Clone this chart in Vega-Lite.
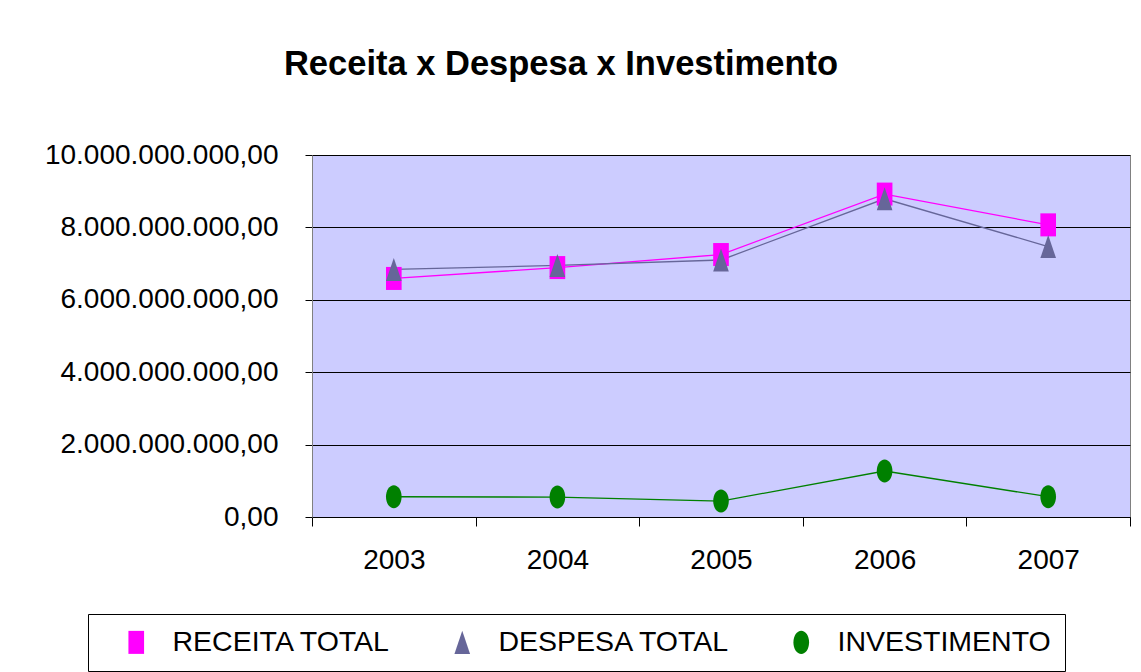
{
  "$schema": "https://vega.github.io/schema/vega-lite/v6.json",
  "width": 818,
  "height": 362,
  "autosize": "none",
  "padding": {"left": 312, "top": 155, "right": 11, "bottom": 155},
  "background": "white",
  "title": {
    "text": "Receita x Despesa x Investimento",
    "font": "Liberation Sans",
    "fontSize": 34.5,
    "fontWeight": "bold",
    "color": "black",
    "anchor": "middle",
    "frame": "group",
    "dx": -160,
    "offset": 32,
    "baseline": "alphabetic"
  },
  "data": {
    "values": [
      {"ano": "2003", "serie": "RECEITA TOTAL", "valor": 6590000000},
      {"ano": "2004", "serie": "RECEITA TOTAL", "valor": 6890000000},
      {"ano": "2005", "serie": "RECEITA TOTAL", "valor": 7250000000},
      {"ano": "2006", "serie": "RECEITA TOTAL", "valor": 8920000000},
      {"ano": "2007", "serie": "RECEITA TOTAL", "valor": 8070000000},
      {"ano": "2003", "serie": "DESPESA TOTAL", "valor": 6840000000},
      {"ano": "2004", "serie": "DESPESA TOTAL", "valor": 6950000000},
      {"ano": "2005", "serie": "DESPESA TOTAL", "valor": 7100000000},
      {"ano": "2006", "serie": "DESPESA TOTAL", "valor": 8790000000},
      {"ano": "2007", "serie": "DESPESA TOTAL", "valor": 7470000000},
      {"ano": "2003", "serie": "INVESTIMENTO", "valor": 560000000},
      {"ano": "2004", "serie": "INVESTIMENTO", "valor": 550000000},
      {"ano": "2005", "serie": "INVESTIMENTO", "valor": 440000000},
      {"ano": "2006", "serie": "INVESTIMENTO", "valor": 1270000000},
      {"ano": "2007", "serie": "INVESTIMENTO", "valor": 560000000}
    ]
  },
  "encoding": {
    "x": {
      "field": "ano",
      "type": "ordinal",
      "bandPosition": 0.5,
      "scale": {"type": "band", "paddingInner": 0, "paddingOuter": 0},
      "axis": {
        "title": null,
        "labelAngle": 0,
        "tickBand": "extent",
        "tickSize": 9,
        "tickColor": "black",
        "domainColor": "black",
        "labelFont": "Liberation Sans",
        "labelFontSize": 28,
        "labelColor": "black",
        "labelPadding": 20,
        "grid": false
      }
    },
    "y": {
      "field": "valor",
      "type": "quantitative",
      "scale": {"domain": [0, 10000000000], "nice": false},
      "axis": {
        "title": null,
        "values": [0, 2000000000, 4000000000, 6000000000, 8000000000, 10000000000],
        "format": ",.2f",
        "tickSize": 7,
        "tickColor": "black",
        "domainColor": "#808080",
        "grid": true,
        "gridColor": "black",
        "gridWidth": 1,
        "gridOpacity": 1,
        "labelFont": "Liberation Sans",
        "labelFontSize": 28,
        "labelColor": "black",
        "labelPadding": 27,
        "labelLimit": 400
      }
    },
    "color": {
      "field": "serie",
      "type": "nominal",
      "sort": ["RECEITA TOTAL", "DESPESA TOTAL", "INVESTIMENTO"],
      "scale": {
        "domain": ["RECEITA TOTAL", "DESPESA TOTAL", "INVESTIMENTO"],
        "range": ["#FF00FF", "#666699", "#008000"]
      },
      "legend": {
        "title": null,
        "orient": "none",
        "legendX": -224,
        "legendY": 459,
        "direction": "horizontal",
        "strokeColor": "black",
        "padding": 14,
        "labelFont": "Liberation Sans",
        "labelFontSize": 28.5,
        "labelColor": "black",
        "symbolSize": 530,
        "symbolStrokeWidth": 0,
        "symbolOffset": 20,
        "labelOffset": 22,
        "columnPadding": 36,
        "labelLimit": 400
      }
    }
  },
  "layer": [
    {
      "mark": {"type": "line", "strokeWidth": 1.3}
    },
    {
      "mark": {"type": "point", "filled": true, "opacity": 1, "size": 530, "strokeWidth": 0},
      "encoding": {
        "shape": {
          "field": "serie",
          "type": "nominal",
          "sort": ["RECEITA TOTAL", "DESPESA TOTAL", "INVESTIMENTO"],
          "scale": {
            "domain": ["RECEITA TOTAL", "DESPESA TOTAL", "INVESTIMENTO"],
            "range": [
              "M-0.68,-1H0.68V1H-0.68Z",
              "M0,-1L0.68,1H-0.68Z",
              "M-0.68,0A0.68,1,0,1,0,0.68,0A0.68,1,0,1,0,-0.68,0Z"
            ]
          },
          "legend": {
            "title": null,
            "orient": "none",
            "legendX": -224,
            "legendY": 459,
            "direction": "horizontal",
            "strokeColor": "black",
            "padding": 14,
            "labelFont": "Liberation Sans",
            "labelFontSize": 28.5,
            "labelColor": "black",
            "symbolSize": 530,
            "symbolStrokeWidth": 0,
            "symbolOffset": 20,
            "labelOffset": 22,
            "columnPadding": 36,
            "labelLimit": 400
          }
        }
      }
    }
  ],
  "config": {
    "locale": {
      "number": {"decimal": ",", "thousands": ".", "grouping": [3], "currency": ["R$", ""]}
    },
    "view": {"fill": "#CCCCFF", "stroke": "#808080"}
  }
}
